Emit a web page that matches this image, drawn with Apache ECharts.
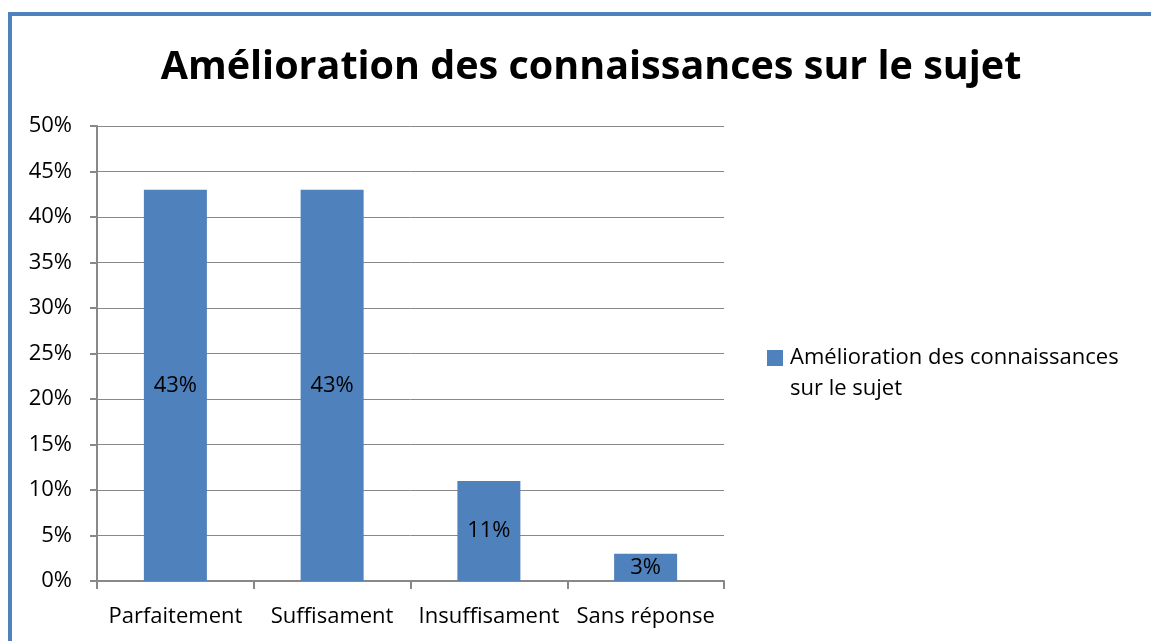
<!DOCTYPE html>
<html>
<head>
<meta charset="utf-8">
<script src="https://cdn.jsdelivr.net/npm/echarts@6/dist/echarts.min.js"></script>
<style>
  html, body { margin: 0; padding: 0; background: #fff; }
  #chart { width: 1151px; height: 641px; }
</style>
</head>
<body>
<div id="chart"></div>
<script>
const titleText = "Amélioration des connaissances sur le sujet";
const categories = ["Parfaitement", "Suffisament", "Insuffisament", "Sans réponse"];
const values = [43, 43, 11, 3];
const seriesName = "Amélioration des connaissances sur le sujet";

const font = "'Open Sans', 'Liberation Sans', sans-serif";
const blue = "#4f81bd";
const chart = echarts.init(document.getElementById("chart"));

chart.setOption({
  animation: false,
  textStyle: { fontFamily: font },
  graphic: [
    {
      type: "rect",
      shape: { x: 10, y: 14, width: 1160, height: 700 },
      style: { fill: "none", stroke: blue, lineWidth: 4 },
      silent: true,
    },
  ],
  title: {
    text: titleText,
    left: 586,
    textAlign: "center",
    top: 43,
    textStyle: { fontFamily: font, fontSize: 39.5, fontWeight: "bold", color: "#000" },
  },
  legend: {
    left: 757,
    top: 342,
    icon: "none",
    itemWidth: 0,
    itemHeight: 0,
    itemGap: 0,
    // square drawn as a rich fragment so it sits beside the first line only
    formatter: function () {
      return "{sq|}{t|Amélioration des connaissances}\n{t2|sur le sujet}";
    },
    textStyle: {
      fontFamily: font,
      fontSize: 22,
      color: "#000",
      rich: {
        sq: { width: 16, height: 16, backgroundColor: blue },
        t: { fontSize: 22, lineHeight: 31, padding: [0, 0, 0, 7] },
        t2: { fontSize: 22, lineHeight: 31, padding: [0, 0, 0, 23] },
      },
    },
    data: [seriesName],
  },
  grid: { left: 97, right: 427, top: 126, bottom: 60 },
  xAxis: {
    type: "category",
    data: categories,
    axisLine: { lineStyle: { color: "#888", width: 2 } },
    axisTick: { show: true, length: 8, lineStyle: { color: "#888", width: 2 } },
    axisLabel: { color: "#000", fontSize: 22, margin: 25, interval: 0 },
  },
  yAxis: {
    type: "value",
    min: 0,
    max: 50,
    interval: 5,
    axisLine: { show: true, lineStyle: { color: "#888", width: 2 } },
    axisTick: { show: true, length: 7, lineStyle: { color: "#888", width: 2 } },
    axisLabel: { color: "#000", fontSize: 22, margin: 25, formatter: "{value}%" },
    splitLine: { lineStyle: { color: "#888", width: 1 } },
  },
  series: [
    {
      name: seriesName,
      type: "bar",
      barWidth: 63,
      data: values,
      itemStyle: { color: blue },
      label: {
        show: true,
        position: "inside",
        formatter: "{c}%",
        color: "#000",
        fontSize: 22,
        fontFamily: font,
      },
    },
  ],
});
</script>
</body>
</html>
